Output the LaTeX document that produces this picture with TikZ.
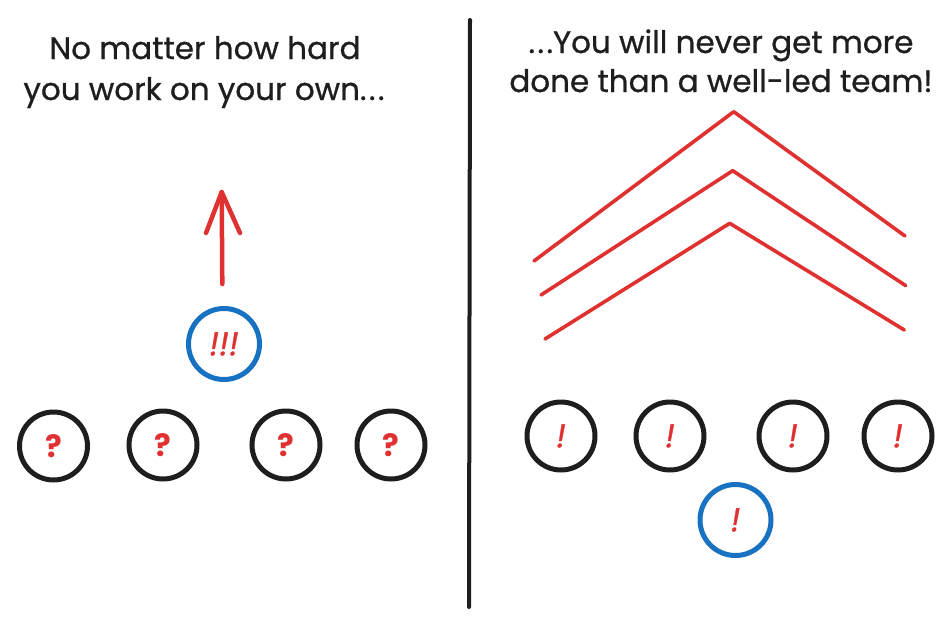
\documentclass[tikz,border=0pt]{standalone}
\usepackage{fontspec}
\setmainfont{Poppins}
\newfontfamily\capfont{Poppins}[FakeBold=0.8,Ligatures=NoCommon]
\newcommand{\dotsthree}{.\kern2.5pt.\kern2.5pt.}
\definecolor{exred}{HTML}{E03131}
\definecolor{exblue}{HTML}{1971C2}
\definecolor{exblack}{HTML}{1E1E1E}
\begin{document}
\begin{tikzpicture}[x=1pt,y=-1pt,
  ring/.style={circle,line width=5pt,inner sep=0pt,text=exred},
  blk/.style={ring,draw=exblack,minimum size=68pt},
  blu/.style={ring,draw=exblue,minimum size=71pt},
  qmark/.style={font=\fontsize{31}{31}\selectfont\bfseries},
  emark/.style={font=\fontsize{33}{33}\selectfont\itshape\addfontfeatures{FakeBold=1}},
  caption/.style={anchor=base,text=exblack,font=\fontsize{31}{31}\selectfont\capfont,inner sep=0pt},
  chev/.style={draw=exred,line width=3.6pt,line cap=round,line join=round},
  arr/.style={draw=exred,line width=4.5pt,line cap=round,line join=round}]
\useasboundingbox (0,0) rectangle (951,627);
% divider
\coordinate (dtop) at (470,20);
\coordinate (dbot) at (469,607);
\draw[exblack,line width=4pt,line cap=round] (dtop) -- (dbot);
% captions
\node[caption] (tl1) at (205,59) {No matter how hard};
\node[caption] (tl2) at (204,100) {you work on your own\dotsthree};
\node[caption] (tr1) at (721,53) {\dotsthree You will never get more};
\node[caption] (tr2) at (721,92) {done than a well-led team!};
% left side
\node[blu,emark] (lead) at (224,344) {!!!};
\node[blk,qmark] (q1) at (53.5,446) {?};
\node[blk,qmark] (q2) at (163,445) {?};
\node[blk,qmark] (q3) at (286,445) {?};
\node[blk,qmark] (q4) at (391,445) {?};
\coordinate (atail) at (222.3,284);
\coordinate (ahead) at (221.7,192);
\coordinate (aleft) at (206,233);
\coordinate (aright) at (240,233);
\draw[arr] (atail) -- (ahead);
\draw[arr] (aleft) -- (ahead) -- (aright);
% right side
\node[blk,emark] (e1) at (561,436) {!};
\node[blk,emark] (e2) at (670,436) {!};
\node[blk,emark] (e3) at (793,436) {!};
\node[blk,emark] (e4) at (898,436) {!};
\node[blu,emark] (tlead) at (735.5,520) {!};
\coordinate (c1l) at (534,261);
\coordinate (c1a) at (733.7,111.7);
\coordinate (c1r) at (905,236);
\coordinate (c2l) at (541,295);
\coordinate (c2a) at (732.7,170.7);
\coordinate (c2r) at (905.7,285.7);
\coordinate (c3l) at (545,339);
\coordinate (c3a) at (729.7,223.3);
\coordinate (c3r) at (904.3,330);
\draw[chev] (c1l) -- (c1a) -- (c1r);
\draw[chev] (c2l) -- (c2a) -- (c2r);
\draw[chev] (c3l) -- (c3a) -- (c3r);
\end{tikzpicture}
\end{document}
